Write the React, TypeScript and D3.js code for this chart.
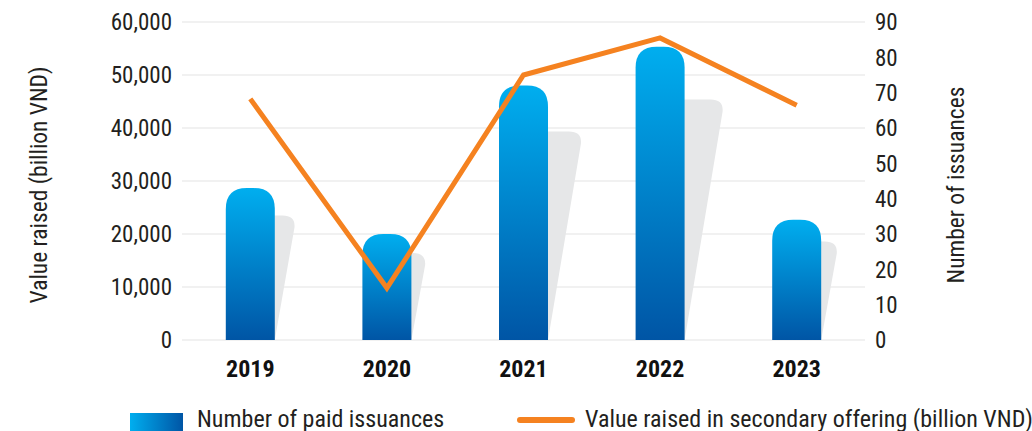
import React from 'react';
import * as d3 from 'd3';

const years = ['2019', '2020', '2021', '2022', '2023'];
const issuances = [43, 30, 72, 83, 34];
const valueRaised = [45500, 9800, 50000, 57000, 44300];
const leftTicks = [0, 10000, 20000, 30000, 40000, 50000, 60000];
const rightTicks = [0, 10, 20, 30, 40, 50, 60, 70, 80, 90];

const W = 1032, H = 431;
const FONT = "'Liberation Sans Narrow', 'Roboto Condensed', 'DejaVu Sans Condensed', sans-serif";

export default function App() {
  const x = d3.scaleBand<string>().domain(years).range([182, 865]).paddingInner(0).paddingOuter(0);
  const yL = d3.scaleLinear().domain([0, 60000]).range([340, 22]);
  const yR = d3.scaleLinear().domain([0, 90]).range([340, 22]);
  const bw = 49;
  const fmt = d3.format(',');
  const line = d3.line<number>()
    .x((_, i) => (x(years[i]) as number) + x.bandwidth() / 2)
    .y((d) => yL(d));

  const barPath = (cx: number, top: number, bottom: number) => {
    const x0 = cx - bw / 2, x1 = cx + bw / 2, r = 21;
    return `M${x0},${bottom}L${x0},${top + r}Q${x0},${top} ${x0 + r},${top}L${x1 - r},${top}Q${x1},${top} ${x1},${top + r}L${x1},${bottom}Z`;
  };
  const shadowPath = (cx: number, top: number, bottom: number) => {
    const h = (bottom - top) * 0.82;
    const t = bottom - h;
    const s = h * 0.158;
    const x0 = cx - bw / 2, x1 = cx + bw / 2, r = 12;
    return `M${x0},${bottom}L${x0 + s},${t + r}Q${x0 + s},${t} ${x0 + s + r},${t}L${x1 + s - r},${t}Q${x1 + s + 1},${t} ${x1 + s},${t + r}L${x1},${bottom}Z`;
  };

  return (
    <svg width={W} height={H} style={{ position: 'absolute', left: 0, top: 0 }} fontFamily={FONT}>
      <defs>
        <linearGradient id="barGrad" x1="0" y1="0" x2="0" y2="1">
          <stop offset="0" stopColor="#00AEEF" />
          <stop offset="1" stopColor="#0055A5" />
        </linearGradient>
        <linearGradient id="legGrad" x1="0" y1="0" x2="1" y2="0">
          <stop offset="0" stopColor="#00AEEF" />
          <stop offset="1" stopColor="#0055A5" />
        </linearGradient>
      </defs>
      {leftTicks.map((t) => (
        <g key={t}>
          <line x1={182} x2={865} y1={yL(t)} y2={yL(t)} stroke="#E3E3E3" strokeWidth={1} />
          <text x={172} y={yL(t)} dy="0.36em" textAnchor="end" fontSize={23} fill="#231F20">{fmt(t)}</text>
        </g>
      ))}
      {rightTicks.map((t) => (
        <text key={t} x={875} y={yR(t)} dy="0.36em" textAnchor="start" fontSize={23} fill="#231F20">{t}</text>
      ))}
      <text transform="translate(47,185) rotate(-90)" textAnchor="middle" fontSize={23.5} fill="#231F20">Value raised (billion VND)</text>
      <text transform="translate(964,185) rotate(-90)" textAnchor="middle" fontSize={23.5} fill="#231F20">Number of issuances</text>
      {years.map((yr, i) => {
        const cx = (x(yr) as number) + x.bandwidth() / 2;
        return <path key={'s' + yr} d={shadowPath(cx, yR(issuances[i]), yR(0))} fill="#E6E7E8" />;
      })}
      {years.map((yr, i) => {
        const cx = (x(yr) as number) + x.bandwidth() / 2;
        return <path key={'b' + yr} d={barPath(cx, yR(issuances[i]), yR(0))} fill="url(#barGrad)" />;
      })}
      <path d={line(valueRaised) || ''} fill="none" stroke="#F58220" strokeWidth={5} strokeLinejoin="miter" />
      {years.map((yr) => (
        <text key={'x' + yr} x={(x(yr) as number) + x.bandwidth() / 2} y={377} textAnchor="middle" fontSize={24} fontWeight="bold" fill="#111">{yr}</text>
      ))}
      <rect x={130} y={413} width={53} height={20} fill="url(#legGrad)" />
      <text x={197} y={427} fontSize={24} fill="#231F20">Number of paid issuances</text>
      <line x1={520} x2={572} y1={420} y2={420} stroke="#F58220" strokeWidth={6} strokeLinecap="round" />
      <text x={585} y={427} fontSize={24} fill="#231F20">Value raised in secondary offering (billion VND)</text>
    </svg>
  );
}
